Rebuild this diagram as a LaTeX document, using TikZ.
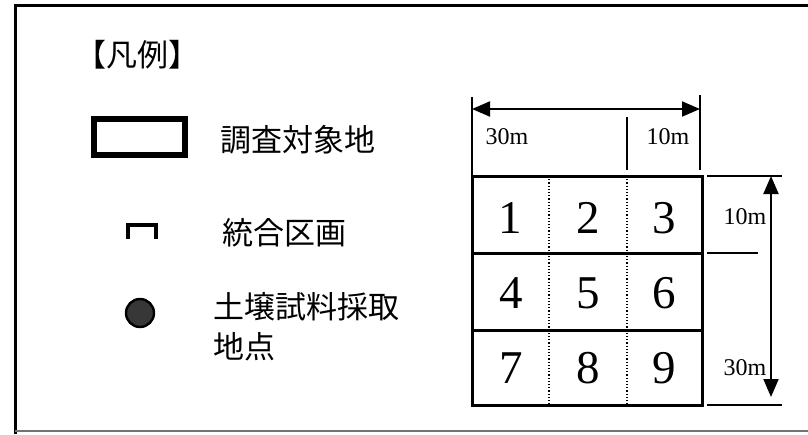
\documentclass[tikz,border=0pt]{standalone}
\usepackage{fontspec}
\setmainfont{Liberation Serif}
\newfontfamily\jpfont{Noto Sans CJK JP}
\usetikzlibrary{arrows.meta}

\begin{document}
\begin{tikzpicture}[
        x=0.5pt, y=-0.5pt,
        legend_text/.style={font=\jpfont\fontsize{15.5}{20}\selectfont, inner sep=0pt},
        cell_num/.style={font=\fontsize{23.5}{27}\selectfont, inner sep=0pt},
        dim_label/.style={font=\fontsize{12}{14}\selectfont, inner sep=0pt},
        grid_line/.style={line width=1.5pt, draw=black},
        divider/.style={line width=0.6pt, densely dotted},
        ext_line/.style={line width=1pt},
        dim_arrow/.style={line width=1pt, {Triangle[length=9pt, width=7.5pt]}-{Triangle[length=9pt, width=7.5pt]}}
    ]
        \useasboundingbox (0,0) rectangle (808,434);

        \definecolor{dotgray}{RGB}{55, 55, 55}

        % frame
        \draw[line width=1.5pt] (808,5) -- (15,5) -- (15,434);
        \draw[line width=0.6pt, black!55] (15,431) -- (808,431);

        % legend
        \node[legend_text] (title) at (137,55) {【凡例】};

        \draw[line width=2.6pt] (94,119) rectangle (185,155);
        \node[legend_text, anchor=west] (site) at (220,140) {調査対象地};

        \draw[line width=2.4pt] (128,239) -- (128,225) -- (156,225) -- (156,239);
        \node[legend_text, anchor=west] (merged) at (222,233) {統合区画};

        \draw[fill=dotgray, line width=1.2pt] (140,313) circle[radius=7pt];
        \node[legend_text, anchor=west, align=left] (sample) at (213,327) {土壌試料採取\\地点};

        % grid of sections
        \draw[grid_line] (472,176) rectangle (702,405);
        \draw[grid_line] (472,253) -- (702,253);
        \draw[grid_line] (472,330) -- (702,330);
        \draw[divider] (549,176) -- (549,405);
        \draw[divider] (627,176) -- (627,405);

        \node[cell_num] (n1) at (510,218) {1};
        \node[cell_num] (n2) at (588,218) {2};
        \node[cell_num] (n3) at (664,218) {3};
        \node[cell_num] (n4) at (511,293) {4};
        \node[cell_num] (n5) at (588,293) {5};
        \node[cell_num] (n6) at (664,293) {6};
        \node[cell_num] (n7) at (511,368) {7};
        \node[cell_num] (n8) at (588,368) {8};
        \node[cell_num] (n9) at (664,368) {9};

        % top dimension
        \coordinate (ext_a_top) at (472,97);
        \coordinate (ext_a_bot) at (472,176);
        \coordinate (ext_b_top) at (627,117);
        \coordinate (ext_b_bot) at (627,170);
        \coordinate (ext_c_top) at (700,95);
        \coordinate (ext_c_bot) at (700,170);
        \coordinate (top_l) at (472,109);
        \coordinate (top_r) at (700,109);

        \draw[ext_line] (ext_a_top) -- (ext_a_bot);
        \draw[ext_line] (ext_b_top) -- (ext_b_bot);
        \draw[ext_line] (ext_c_top) -- (ext_c_bot);
        \draw[dim_arrow] (top_l) -- (top_r);

        \node[dim_label] (w30) at (507,137) {30m};
        \node[dim_label] (w10) at (668,137) {10m};

        % right dimension
        \coordinate (ext_d_l) at (707,176);
        \coordinate (ext_d_r) at (782,176);
        \coordinate (ext_e_l) at (707,253);
        \coordinate (ext_e_r) at (758,253);
        \coordinate (ext_f_l) at (707,405);
        \coordinate (ext_f_r) at (782,405);
        \coordinate (side_t) at (771,176);
        \coordinate (side_b) at (771,397);

        \draw[ext_line] (ext_d_l) -- (ext_d_r);
        \draw[ext_line] (ext_e_l) -- (ext_e_r);
        \draw[ext_line] (ext_f_l) -- (ext_f_r);
        \draw[dim_arrow] (side_t) -- (side_b);

        \node[dim_label] (h10) at (745,217) {10m};
        \node[dim_label] (h30) at (745,368) {30m};
    \end{tikzpicture}
\end{document}
